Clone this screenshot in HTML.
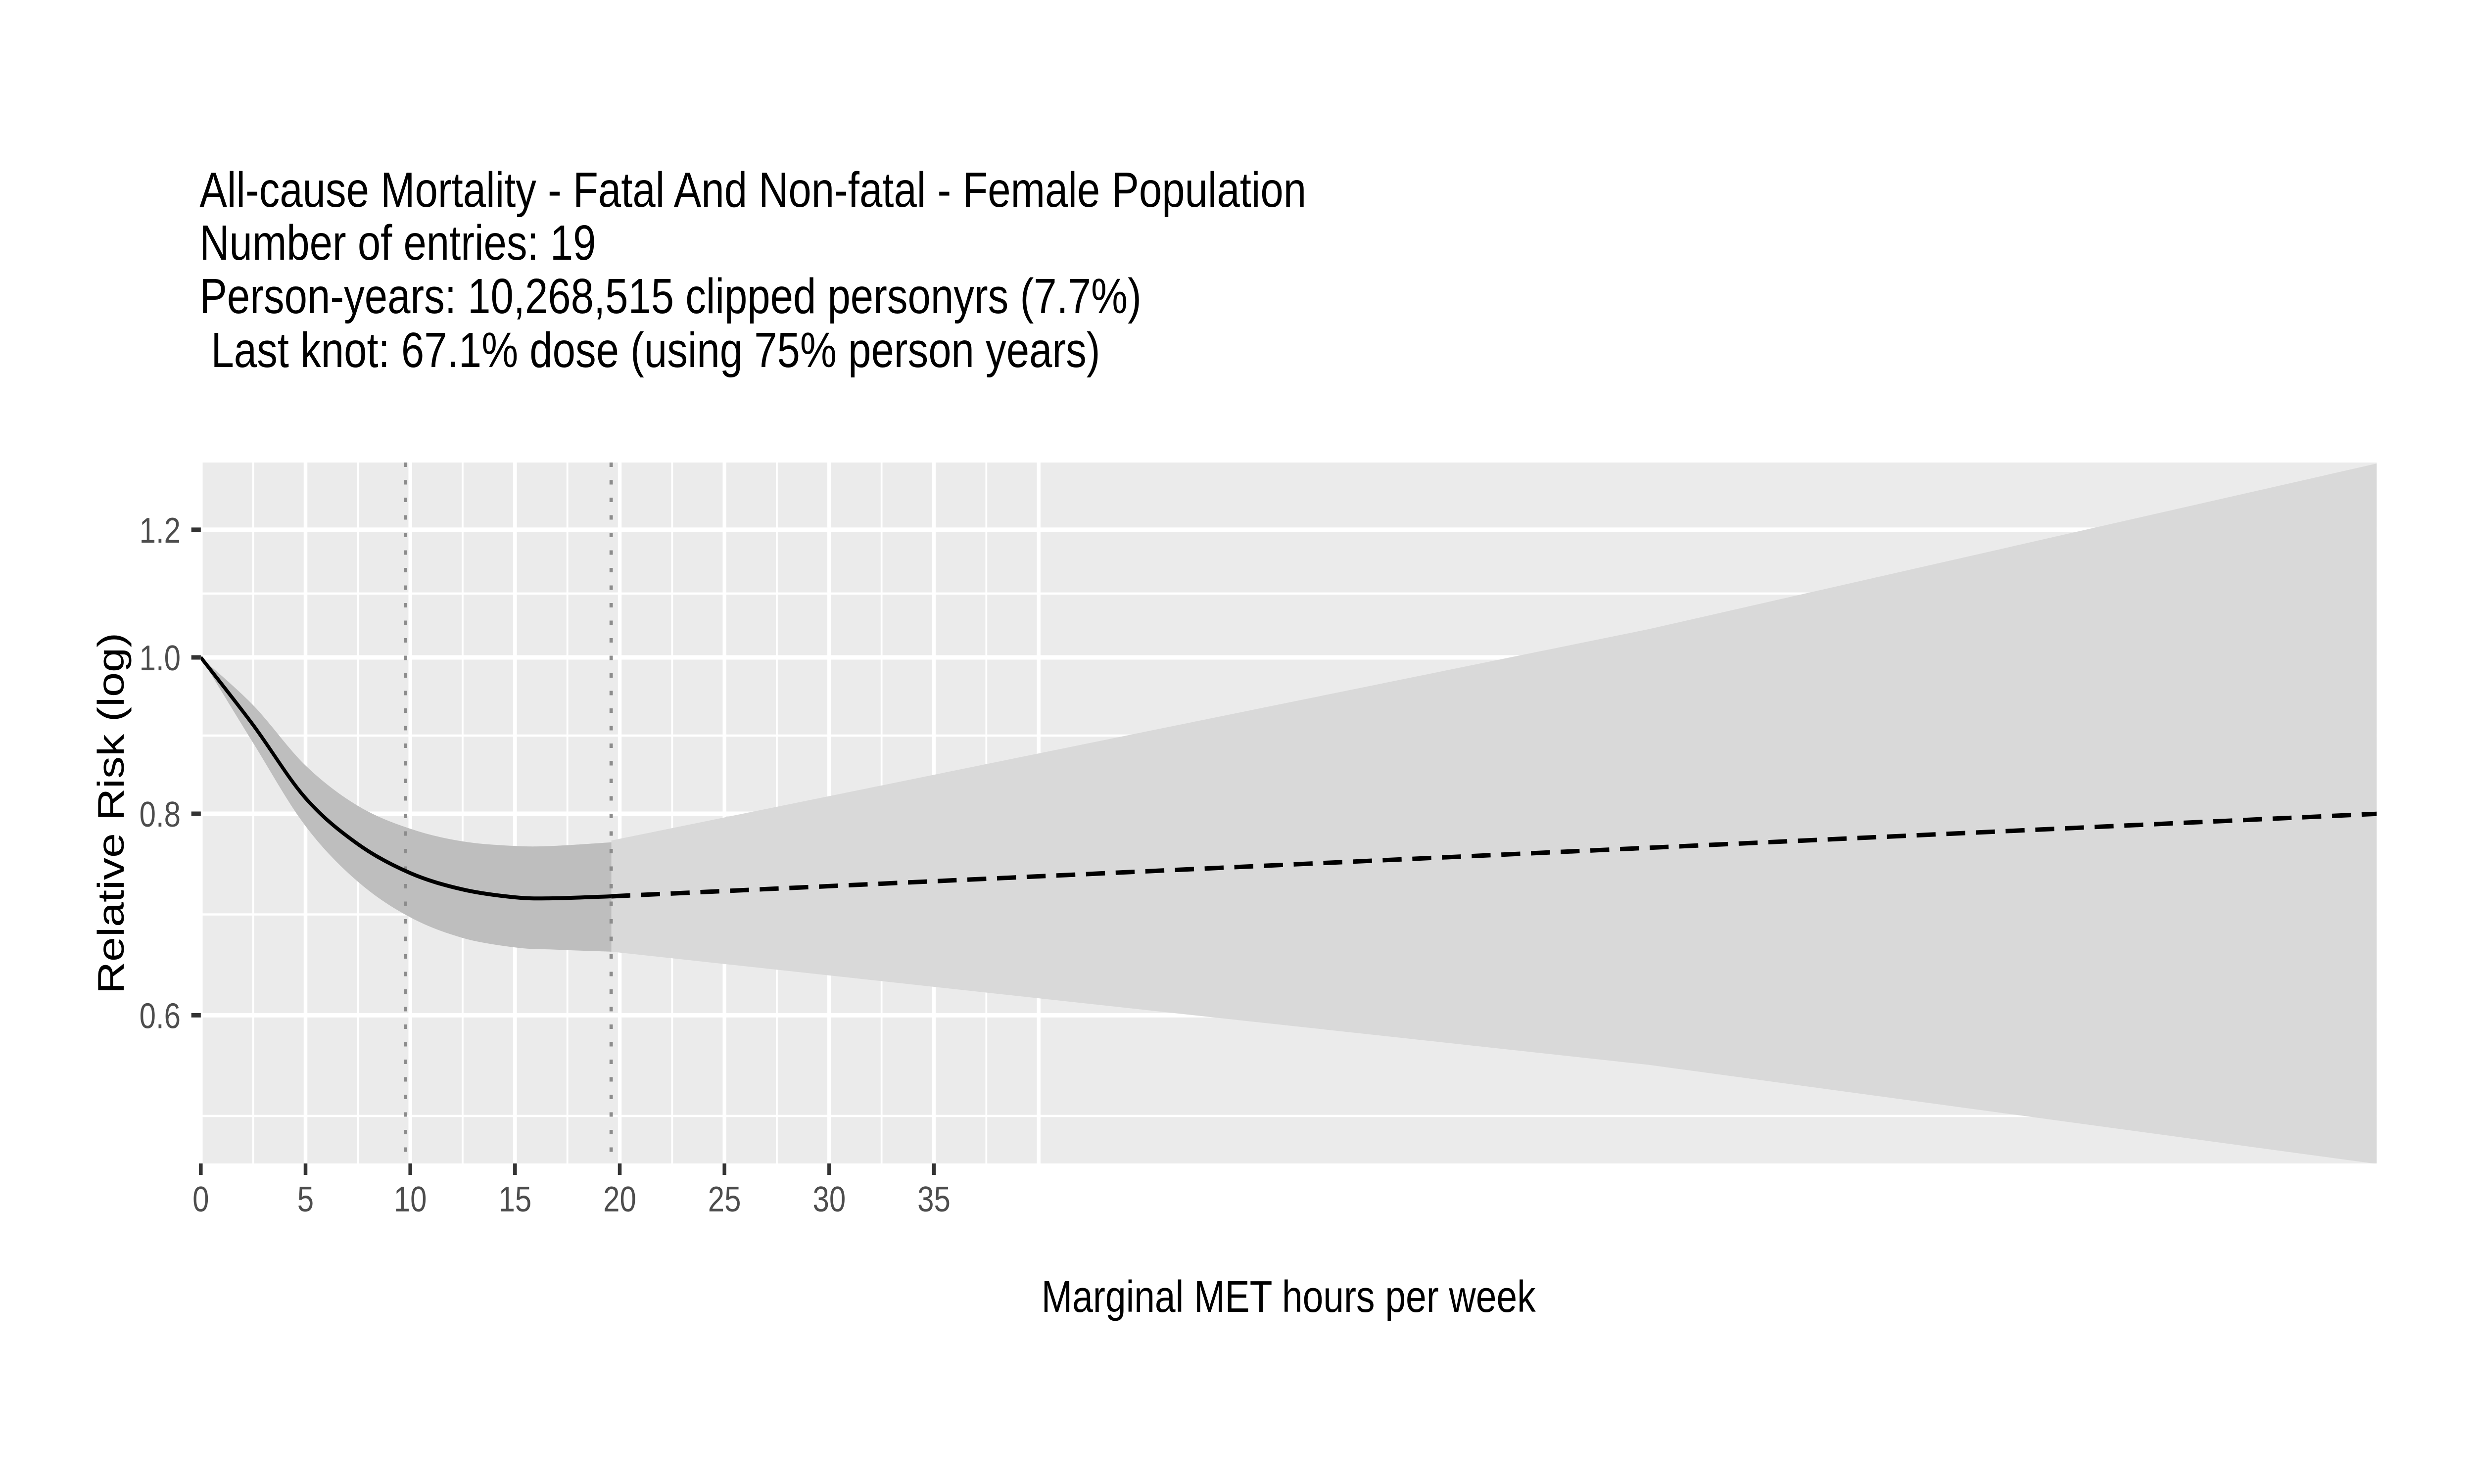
<!DOCTYPE html>
<html><head><meta charset="utf-8"><style>
html,body{margin:0;padding:0;background:#fff;width:100%;height:100%;overflow:hidden;}
svg{display:block;width:100vw;height:100vh;font-family:"Liberation Sans",Arial,sans-serif;}
</style></head><body>
<svg id="chart" viewBox="0 0 6000 3000" preserveAspectRatio="none" xmlns="http://www.w3.org/2000/svg">
<defs><clipPath id="pclip"><rect x="487" y="935" width="5277" height="1417"/></clipPath></defs>
<rect width="6000" height="3000" fill="#fff"/>
<g font-size="100" fill="#000">
<text x="484" y="418">All-cause Mortality - Fatal And Non-fatal - Female Population</text>
<text x="484" y="525">Number of entries: 19</text>
<text x="484" y="633">Person-years: 10,268,515 clipped personyrs (7.7%)</text>
<text x="484" y="742" xml:space="preserve"> Last knot: 67.1% dose (using 75% person years)</text>
</g>
<rect x="487" y="935" width="5277" height="1417" fill="#ebebeb"/>
<g id="grid"></g>
<g id="bands" clip-path="url(#pclip)"></g>
<g id="vlines"></g>
<g id="lines" clip-path="url(#pclip)"></g>
<g id="axes"></g>
<text x="3125" y="2652" text-anchor="middle" font-size="90" fill="#000">Marginal MET hours per week</text>
<text transform="translate(300,1644) rotate(-90)" text-anchor="middle" font-size="90" fill="#000">Relative Risk (log)</text>
</svg>
<script>
const xTicks = [0,5,10,15,20,25,30,35];
const xTickLabels = ["0","5","10","15","20","25","30","35"];
const xMajorGrid = [0,5,10,15,20,25,30,35,40];
const xMinorGrid = [2.5,7.5,12.5,17.5,22.5,27.5,32.5,37.5];
const yTicks = [0.6,0.8,1.0,1.2];
const yTickLabels = ["0.6","0.8","1.0","1.2"];
const knots = [9.77,19.59];
const solidX = [0,2.5,5,7.5,10,12.5,15,16.8,19.6];
const solidRR = [1.0,0.908,0.818,0.766,0.735,0.718,0.710,0.709,0.711];
const solidUpper = [1.0,0.934,0.857,0.809,0.783,0.769,0.764,0.764,0.768];
const solidLower = [1.0,0.885,0.786,0.726,0.690,0.670,0.661,0.659,0.657];
const dashX = [19.6,69.1,104];
const dashRR = [0.711,0.762,0.800];
const dashUpper = [0.770,1.041,1.32];
const dashLower = [0.657,0.559,0.485];

const X0=487, XU=50.8, Y1=1329, YL=1416, PT=935, PB=2352, PL=487, PR=5764;
const sx = v => X0 + v*XU;
const sy = v => Y1 - Math.log(v)*YL;
const NS="http://www.w3.org/2000/svg";
function mk(tag, parent, attrs){const e=document.createElementNS(NS,tag);for(const k in attrs)e.setAttribute(k,attrs[k]);parent.appendChild(e);return e;}
function smooth(pts, start){
  let d = start ? 'M'+pts[0][0]+','+pts[0][1] : ' L'+pts[0][0]+','+pts[0][1];
  for(let i=0;i<pts.length-1;i++){
    const p0=pts[Math.max(0,i-1)],p1=pts[i],p2=pts[i+1],p3=pts[Math.min(pts.length-1,i+2)];
    const c1=[p1[0]+(p2[0]-p0[0])/6,p1[1]+(p2[1]-p0[1])/6];
    const c2=[p2[0]-(p3[0]-p1[0])/6,p2[1]-(p3[1]-p1[1])/6];
    d+=' C'+c1[0]+','+c1[1]+' '+c2[0]+','+c2[1]+' '+p2[0]+','+p2[1];
  }
  return d;
}

const grid=document.getElementById('grid');
const yMaj=yTicks.map(sy);
const yMin=[];
for(let i=0;i<yMaj.length-1;i++) yMin.push((yMaj[i]+yMaj[i+1])/2);
yMin.push(yMaj[0]+(yMaj[0]-yMaj[1])/2);
yMin.forEach(y=>{const l=mk('line',grid,{x1:PL,x2:PR,y1:y,y2:y,stroke:'#fff','stroke-width':4.5});

});
xMinorGrid.forEach(v=>{const l=mk('line',grid,{x1:sx(v),x2:sx(v),y1:PT,y2:PB,stroke:'#fff','stroke-width':4.5});

});
yMaj.forEach(y=>{const l=mk('line',grid,{x1:PL,x2:PR,y1:y,y2:y,stroke:'#fff','stroke-width':9});

});
xMajorGrid.forEach(v=>{const l=mk('line',grid,{x1:sx(v),x2:sx(v),y1:PT,y2:PB,stroke:'#fff','stroke-width':9});

});

function bandPath(xs,up,lo,sm){
  const U=xs.map((x,i)=>[sx(x),sy(up[i])]);
  const L=xs.map((x,i)=>[sx(x),sy(lo[i])]).reverse();
  if(sm) return smooth(U,true)+smooth(L,false)+' Z';
  return 'M'+U.map(p=>p.join(',')).join(' L')+' L'+L.map(p=>p.join(',')).join(' L')+' Z';
}
const bands=document.getElementById('bands');
const b2=mk('path',bands,{d:bandPath(dashX,dashUpper,dashLower,false),fill:'#d9d9d9'});


const b1=mk('path',bands,{d:bandPath(solidX,solidUpper,solidLower,true),fill:'#bebebe'});



const vl=document.getElementById('vlines');
knots.forEach(k=>{const l=mk('line',vl,{x1:sx(k),x2:sx(k),y1:PT,y2:PB,stroke:'#8c8c8c','stroke-width':8,'stroke-dasharray':'9 26.5'});

});

const ln=document.getElementById('lines');
const s=mk('path',ln,{d:smooth(solidX.map((x,i)=>[sx(x),sy(solidRR[i])]),true),fill:'none',stroke:'#000','stroke-width':8,'stroke-linejoin':'round'});


const d=mk('polyline',ln,{points:dashX.map((x,i)=>sx(x)+','+sy(dashRR[i])).join(' '),fill:'none',stroke:'#000','stroke-width':9,'stroke-dasharray':'46 26'});



const ax=document.getElementById('axes');
xTicks.forEach((v,i)=>{const t=mk('line',ax,{x1:sx(v),x2:sx(v),y1:PB,y2:PB+23,stroke:'#333','stroke-width':9});


const tx=mk('text',ax,{x:sx(v),y:2449,'text-anchor':'middle','font-size':72,fill:'#4d4d4d'});
tx.textContent=xTickLabels[i];

});
yTicks.forEach((v,i)=>{const y=sy(v);const t=mk('line',ax,{x1:PL-23,x2:PL,y1:y,y2:y,stroke:'#333','stroke-width':9});


const tx=mk('text',ax,{x:438,y:y+26,'text-anchor':'end','font-size':72,fill:'#4d4d4d'});
tx.textContent=yTickLabels[i];

});
</script>
</body></html>
